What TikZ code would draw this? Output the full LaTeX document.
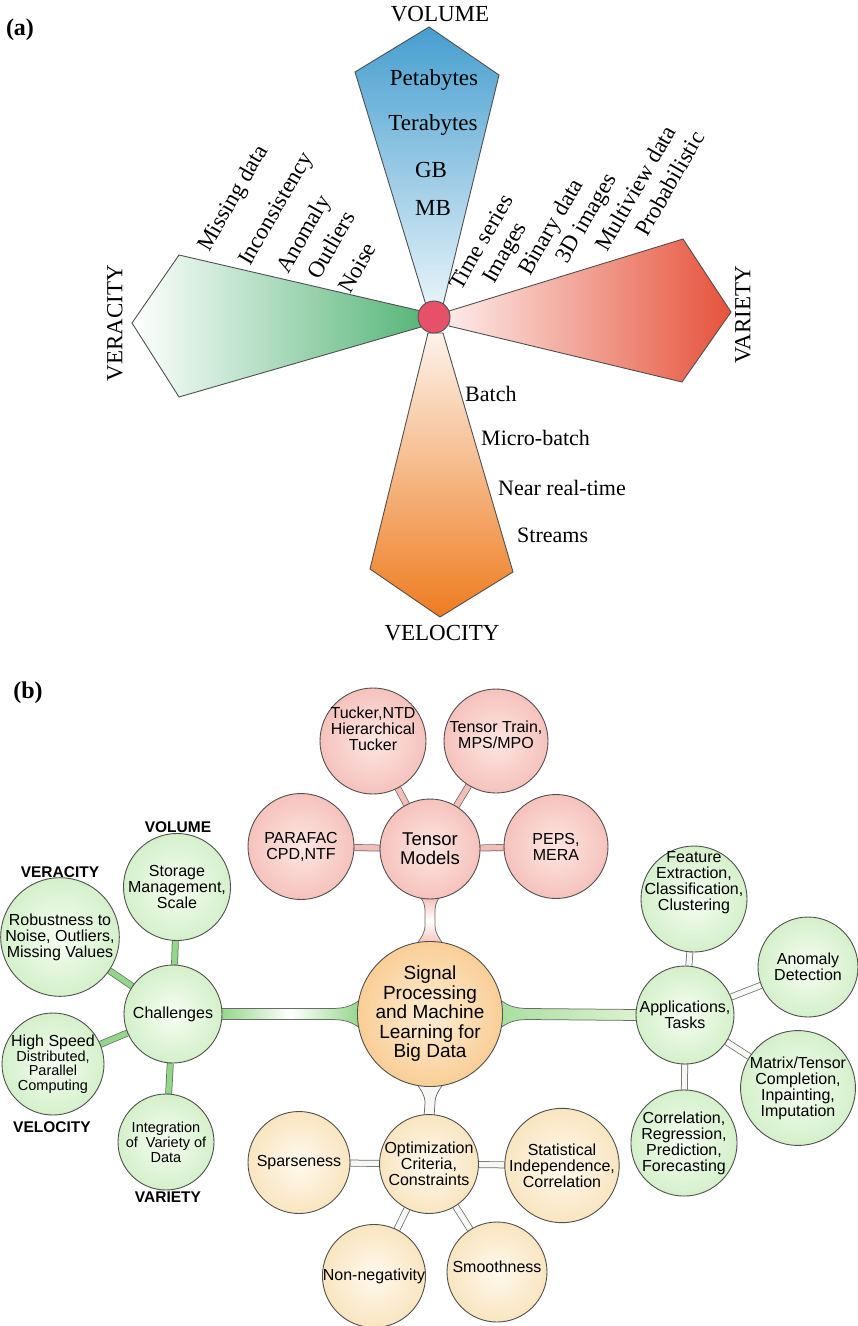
\documentclass[tikz,border=0pt]{standalone}
\usepackage{fontspec}
\setmainfont{Liberation Serif}
\newfontfamily\sansfont{Liberation Sans}
\usetikzlibrary{calc}
\pgfdeclarelayer{paper}
\pgfdeclarelayer{tubes}
\pgfsetlayers{paper,tubes,main}

\definecolor{rimgray}{RGB}{80,80,80}
\definecolor{volblue}{RGB}{70,158,207}
\definecolor{volpale}{RGB}{230,243,250}
\definecolor{verdark}{RGB}{88,182,122}
\definecolor{varred}{RGB}{230,82,58}
\definecolor{varpale}{RGB}{252,234,232}
\definecolor{velorange}{RGB}{238,124,32}
\definecolor{velpale}{RGB}{253,242,234}
\definecolor{hubred}{RGB}{230,80,105}
\definecolor{pinkin}{RGB}{252,230,227}
\definecolor{pinkout}{RGB}{246,194,188}
\definecolor{greenin}{RGB}{247,253,243}
\definecolor{greenout}{RGB}{212,240,202}
\definecolor{creamin}{RGB}{254,249,238}
\definecolor{creamout}{RGB}{249,229,192}
\definecolor{corein}{RGB}{254,238,212}
\definecolor{coreout}{RGB}{249,206,150}
\definecolor{tubepink}{RGB}{243,190,184}
\definecolor{tubegreen}{RGB}{146,214,136}
\definecolor{tubelime}{RGB}{200,234,178}
\definecolor{tubewhite}{RGB}{247,247,245}

\tikzset{
  petal/.style={draw=rimgray, line width=0.9pt, line join=miter},
  biglabel/.style={font=\fontsize{23}{23}\selectfont, inner sep=0pt},
  midlabel/.style={font=\fontsize{22}{22}\selectfont, inner sep=0pt},
  ball/.style={circle, draw=rimgray, line width=0.9pt, inner sep=0pt, align=center,
    font=\sansfont\fontsize{16}{16}\selectfont},
  pinkball/.style={ball, inner color=pinkin, outer color=pinkout},
  greenball/.style={ball, inner color=greenin, outer color=greenout},
  creamball/.style={ball, inner color=creamin, outer color=creamout},
  balltext/.style={align=center, inner sep=0pt, font=\sansfont\fontsize{16}{16}\selectfont},
  vlabel/.style={font=\sansfont\bfseries\fontsize{15.5}{15.5}\selectfont, inner sep=0pt},
  tube/.style={double=#1, double distance=5.4pt, draw=rimgray!85, line width=0.75pt},
  tubeedge/.style={draw=rimgray!85, line width=0.75pt},
}

\begin{document}
\begin{tikzpicture}[x=1pt, y=-1pt]
\begin{pgfonlayer}{paper}
  \fill[white] (0,0) rectangle (858,1326);
\end{pgfonlayer}
\useasboundingbox (0,0) rectangle (858,1326);

% ---------------- (a) the four V's ----------------
\node[font=\bfseries\fontsize{24}{24}\selectfont, inner sep=0pt] (taga) at (20,30) {(a)};

% volume (up)
\path[petal, top color=volblue, bottom color=volpale]
  (426,305) -- (355,72) -- (429,27) -- (499,75) -- (443,305) -- cycle;
% veracity (left)
\path[petal, left color=white, right color=verdark]
  (421,311) -- (179,255) -- (132,323) -- (179,397) -- (421,327) -- cycle;
% variety (right)
\path[petal, left color=varpale, right color=varred]
  (449,311) -- (683,239) -- (731,312) -- (682,382) -- (449,326) -- cycle;
% velocity (down)
\path[petal, top color=velpale, bottom color=velorange]
  (428,333) -- (370,569) -- (440,617) -- (513,572) -- (443,333) -- cycle;

\node[circle, draw=rimgray, line width=0.9pt, fill=hubred, minimum size=32pt, inner sep=0pt] (hub) at (434,317) {};

\node[biglabel] (volume) at (440,14) {VOLUME};
\node[biglabel] (velocity) at (442,633) {VELOCITY};
\node[biglabel, rotate=90] (variety) at (743,315) {VARIETY};
\node[biglabel, rotate=90] (veracity) at (115,323) {VERACITY};

\node[biglabel] (peta) at (434,80) {Petabytes};
\node[biglabel] (tera) at (433,125) {Terabytes};
\node[biglabel] (gb) at (431,170) {GB};
\node[biglabel] (mb) at (433,208) {MB};

\node[biglabel, rotate=60, anchor=base west] (missing) at (209,253) {Missing data};
\node[biglabel, rotate=60, anchor=base west] (incons) at (250,267) {Inconsistency};
\node[biglabel, rotate=60, anchor=base west] (anom) at (288,275) {Anomaly};
\node[biglabel, rotate=60, anchor=base west] (outl) at (319,281) {Outliers};
\node[biglabel, rotate=60, anchor=base west] (noise) at (350,295) {Noise};

\node[biglabel, rotate=60, anchor=base west] (tseries) at (461,292) {Time series};
\node[biglabel, rotate=60, anchor=base west] (images) at (494,285) {Images};
\node[biglabel, rotate=60, anchor=base west] (binary) at (530,277) {Binary data};
\node[biglabel, rotate=60, anchor=base west] (threed) at (567,265) {3D images};
\node[biglabel, rotate=60, anchor=base west] (multi) at (607,253) {Multiview data};
\node[biglabel, rotate=60, anchor=base west] (prob) at (647,238) {Probabilistic};

\node[midlabel, anchor=west] (batch) at (465,394) {Batch};
\node[midlabel, anchor=west] (micro) at (481,438) {Micro-batch};
\node[midlabel, anchor=west] (nrt) at (498,488) {Near real-time};
\node[midlabel, anchor=west] (streams) at (517,535) {Streams};

% ---------------- (b) the mind map ----------------
\node[font=\bfseries\fontsize{24}{24}\selectfont, inner sep=0pt] (tagb) at (28,693) {(b)};

% core
\node[ball, inner color=corein, outer color=coreout, minimum size=134pt,
      font=\sansfont\fontsize{19}{19.5}\selectfont] (sig) at (430,1014)
  {Signal\\Processing\\and Machine\\Learning for\\Big Data};

% tensor models
\node[pinkball, minimum size=100pt, font=\sansfont\fontsize{18.5}{19}\selectfont] (tensor) at (430,849) {Tensor\\Models};
\node[pinkball, minimum size=106pt] (tucker) at (373,741) {};
\node[balltext] at ($(tucker)+(0,-12)$) {Tucker,NTD\\Hierarchical\\Tucker};
\node[pinkball, minimum size=104pt] (train) at (496,741) {};
\node[balltext] at ($(train)+(0,-6)$) {Tensor Train,\\MPS/MPO};
\node[pinkball, minimum size=106pt] (parafac) at (301,846.5) {PARAFAC\\CPD,NTF};
\node[pinkball, minimum size=104pt] (peps) at (556,846.5) {PEPS,\\MERA};

% challenges
\node[greenball, minimum size=98pt] (chal) at (173,1014) {Challenges};
\node[greenball, minimum size=102pt] (storage) at (177,887) {Storage\\Management,\\Scale};
\node[greenball, minimum size=112pt] (robust) at (60,937) {Robustness to\\Noise, Outliers,\\Missing Values};
\node[greenball, minimum size=102pt, font=\sansfont\fontsize{14.5}{14.5}\selectfont] (speed) at (53,1064)
  {{\fontsize{16}{16}\selectfont High Speed}\\Distributed,\\Parallel\\Computing};
\node[greenball, minimum size=96pt, font=\sansfont\fontsize{14.5}{15}\selectfont] (integr) at (166,1142)
  {Integration\\of\ \ Variety of\\Data};

\node[vlabel] (lvol) at (178,827) {VOLUME};
\node[vlabel] (lver) at (60,872) {VERACITY};
\node[vlabel] (lvel) at (52,1127) {VELOCITY};
\node[vlabel] (lvar) at (168,1197) {VARIETY};

% applications
\node[greenball, minimum size=98pt] (app) at (685,1015) {Applications,\\Tasks};
\node[greenball, minimum size=106pt] (feature) at (694,899) {};
\node[balltext] at ($(feature)+(0,-16)$) {Feature\\Extraction,\\Classification,\\Clustering};
\node[greenball, minimum size=100pt] (anomaly) at (808,967) {Anomaly\\Detection};
\node[greenball, minimum size=108pt] (matrix) at (798,1088) {Matrix/Tensor\\Completion,\\Inpainting,\\Imputation};
\node[greenball, minimum size=104pt] (corr) at (684,1143) {Correlation,\\Regression,\\Prediction,\\Forecasting};

% optimization
\node[creamball, minimum size=96pt] (opt) at (429,1164) {Optimization\\Criteria,\\Constraints};
\node[creamball, minimum size=102pt] (sparse) at (299,1162.5) {Sparseness};
\node[creamball, minimum size=108pt] (stat) at (562,1165.5) {Statistical\\Independence,\\Correlation};
\node[creamball, minimum size=102pt] (nonneg) at (374,1276) {Non-negativity};
\node[creamball, minimum size=100pt] (smooth) at (497,1272) {};
\node[balltext] at ($(smooth)+(0,-5)$) {Smoothness};

\begin{pgfonlayer}{tubes}
  % plain tubes
  \draw[tube=tubepink] (tensor) -- (tucker);
  \draw[tube=tubepink] (tensor) -- (train);
  \draw[tube=tubepink] (tensor) -- (parafac);
  \draw[tube=tubepink] (tensor) -- (peps);

  \draw[tube=tubegreen] (chal) -- (storage);
  \draw[tube=tubegreen] (chal) -- (robust);
  \draw[tube=tubegreen] (chal) -- (speed);
  \draw[tube=tubegreen] (chal) -- (integr);

  \draw[tube=tubewhite] (app) -- (feature);
  \draw[tube=tubewhite] (app) -- (anomaly);
  \draw[tube=tubewhite] (app) -- (matrix);
  \draw[tube=tubewhite] (app) -- (corr);

  \draw[tube=tubewhite] (opt) -- (sparse);
  \draw[tube=tubewhite] (opt) -- (stat);
  \draw[tube=tubewhite] (opt) -- (nonneg);
  \draw[tube=tubewhite] (opt) -- (smooth);

  % challenges -> core, widening into the core
  \path[left color=tubegreen, right color=tubegreen, middle color=white]
    ($(chal.east)+(-3,-5.5)$) -- ($(sig.west)+(-26,-5.5)$)
      .. controls ($(sig.west)+(-10,-5.5)$) and ($(sig.west)+(-4,-9)$) .. ($(sig.west)+(4,-15)$)
    -- ($(sig.west)+(4,15)$)
      .. controls ($(sig.west)+(-4,9)$) and ($(sig.west)+(-10,5.5)$) .. ($(sig.west)+(-26,5.5)$)
    -- ($(chal.east)+(-3,5.5)$) -- cycle;
  \draw[tubeedge] ($(chal.east)+(-3,-5.5)$) -- ($(sig.west)+(-26,-5.5)$)
      .. controls ($(sig.west)+(-10,-5.5)$) and ($(sig.west)+(-4,-9)$) .. ($(sig.west)+(4,-15)$);
  \draw[tubeedge] ($(chal.east)+(-3,5.5)$) -- ($(sig.west)+(-26,5.5)$)
      .. controls ($(sig.west)+(-10,5.5)$) and ($(sig.west)+(-4,9)$) .. ($(sig.west)+(4,15)$);

  % core -> applications
  \path[left color=tubegreen!80, right color=tubelime!60]
    ($(app.west)+(3,-5.5)$) -- ($(sig.east)+(26,-5.5)$)
      .. controls ($(sig.east)+(10,-5.5)$) and ($(sig.east)+(4,-9)$) .. ($(sig.east)+(-4,-15)$)
    -- ($(sig.east)+(-4,15)$)
      .. controls ($(sig.east)+(4,9)$) and ($(sig.east)+(10,5.5)$) .. ($(sig.east)+(26,5.5)$)
    -- ($(app.west)+(3,5.5)$) -- cycle;
  \draw[tubeedge] ($(app.west)+(3,-5.5)$) -- ($(sig.east)+(26,-5.5)$)
      .. controls ($(sig.east)+(10,-5.5)$) and ($(sig.east)+(4,-9)$) .. ($(sig.east)+(-4,-15)$);
  \draw[tubeedge] ($(app.west)+(3,5.5)$) -- ($(sig.east)+(26,5.5)$)
      .. controls ($(sig.east)+(10,5.5)$) and ($(sig.east)+(4,9)$) .. ($(sig.east)+(-4,15)$);

  % tensor models -> core
  \path[top color=tubepink, bottom color=tubepink, middle color=white]
    ($(tensor.south)+(-10,-3)$)
      .. controls ($(tensor.south)+(-6,3)$) and ($(tensor.south)+(-5,6)$) .. ($(tensor.south)+(-5,12)$)
    -- ($(sig.north)+(-5,-16)$)
      .. controls ($(sig.north)+(-5,-8)$) and ($(sig.north)+(-9,-3)$) .. ($(sig.north)+(-14,4)$)
    -- ($(sig.north)+(14,4)$)
      .. controls ($(sig.north)+(9,-3)$) and ($(sig.north)+(5,-8)$) .. ($(sig.north)+(5,-16)$)
    -- ($(tensor.south)+(5,12)$)
      .. controls ($(tensor.south)+(5,6)$) and ($(tensor.south)+(6,3)$) .. ($(tensor.south)+(10,-3)$)
    -- cycle;
  \draw[tubeedge] ($(tensor.south)+(-10,-3)$)
      .. controls ($(tensor.south)+(-6,3)$) and ($(tensor.south)+(-5,6)$) .. ($(tensor.south)+(-5,12)$)
    -- ($(sig.north)+(-5,-16)$)
      .. controls ($(sig.north)+(-5,-8)$) and ($(sig.north)+(-9,-3)$) .. ($(sig.north)+(-14,4)$);
  \draw[tubeedge] ($(tensor.south)+(10,-3)$)
      .. controls ($(tensor.south)+(6,3)$) and ($(tensor.south)+(5,6)$) .. ($(tensor.south)+(5,12)$)
    -- ($(sig.north)+(5,-16)$)
      .. controls ($(sig.north)+(5,-8)$) and ($(sig.north)+(9,-3)$) .. ($(sig.north)+(14,4)$);

  % core -> optimization
  \path[fill=tubewhite]
    ($(sig.south)+(-14,-4)$)
      .. controls ($(sig.south)+(-9,3)$) and ($(sig.south)+(-5,8)$) .. ($(sig.south)+(-5,16)$)
    -- ($(opt.north)+(-5,3)$) -- ($(opt.north)+(5,3)$) -- ($(sig.south)+(5,16)$)
      .. controls ($(sig.south)+(5,8)$) and ($(sig.south)+(9,3)$) .. ($(sig.south)+(14,-4)$)
    -- cycle;
  \draw[tubeedge] ($(sig.south)+(-14,-4)$)
      .. controls ($(sig.south)+(-9,3)$) and ($(sig.south)+(-5,8)$) .. ($(sig.south)+(-5,16)$)
    -- ($(opt.north)+(-5,3)$);
  \draw[tubeedge] ($(sig.south)+(14,-4)$)
      .. controls ($(sig.south)+(9,3)$) and ($(sig.south)+(5,8)$) .. ($(sig.south)+(5,16)$)
    -- ($(opt.north)+(5,3)$);
\end{pgfonlayer}
\end{tikzpicture}
\end{document}
